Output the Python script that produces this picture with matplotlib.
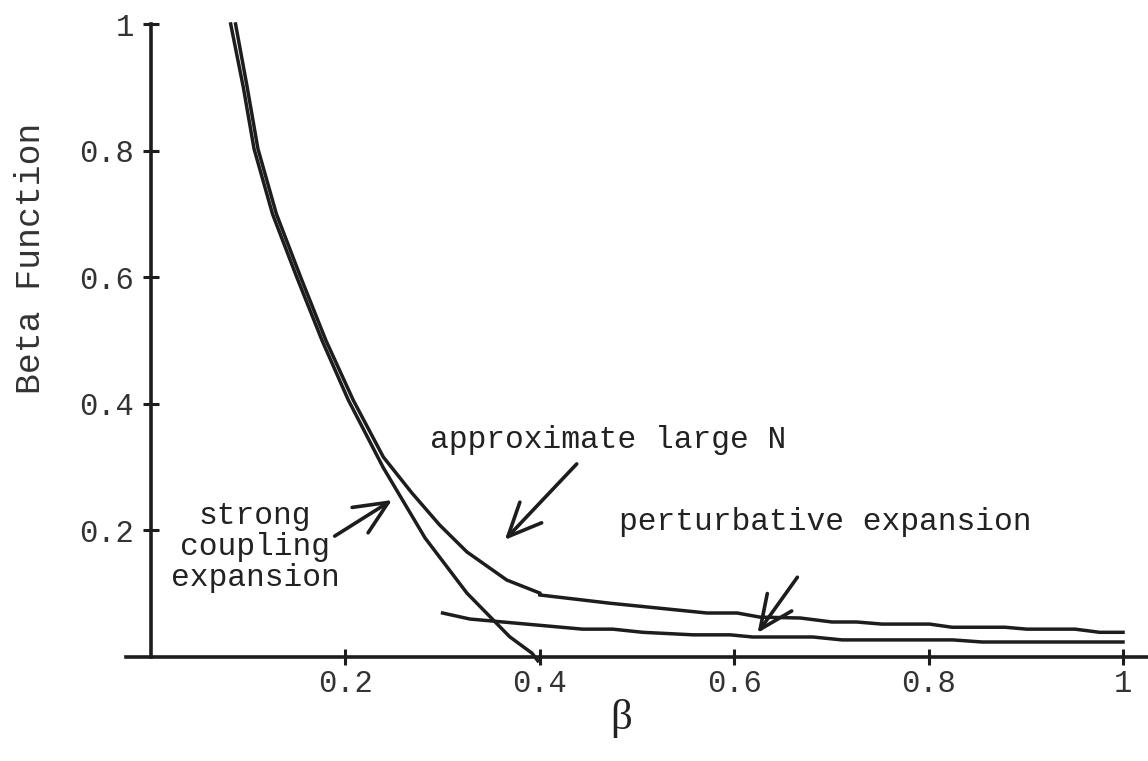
import matplotlib
matplotlib.use('Agg')
import matplotlib.pyplot as plt

# strong coupling expansion
strong_beta = [0.082, 0.095, 0.106, 0.125, 0.150, 0.176, 0.203, 0.239, 0.282, 0.325, 0.369, 0.392, 0.398]
strong_val = [1.0, 0.90, 0.803, 0.70, 0.60, 0.50, 0.406, 0.299, 0.188, 0.101, 0.032, 0.006, -0.006]

# approximate large N
largeN_beta = [0.087, 0.099, 0.110, 0.129, 0.154, 0.180, 0.208, 0.239, 0.2685, 0.297, 0.325, 0.366, 0.400,
               0.400, 0.472, 0.572, 0.603, 0.6265, 0.668, 0.7006, 0.726, 0.752, 0.801, 0.824, 0.8786,
               0.901, 0.9506, 0.976, 1.0]
largeN_val = [1.0, 0.90, 0.803, 0.70, 0.60, 0.50, 0.406, 0.316, 0.259, 0.2085, 0.166, 0.1216, 0.101,
              0.098, 0.085, 0.0695, 0.0695, 0.063, 0.0616, 0.0553, 0.0553, 0.052, 0.052, 0.047, 0.047,
              0.044, 0.044, 0.039, 0.039]

# perturbative expansion
pert_beta = [0.300, 0.328, 0.444, 0.475, 0.506, 0.558, 0.596, 0.619, 0.681, 0.711, 0.825, 0.855, 1.0]
pert_val = [0.0695, 0.060, 0.044, 0.044, 0.039, 0.035, 0.035, 0.0316, 0.0316, 0.027, 0.027, 0.0237, 0.0237]

tick_vals = [0.2, 0.4, 0.6, 0.8, 1.0]
tick_labels = ['0.2', '0.4', '0.6', '0.8', '1']

# labels: text, text position, arrow tail, arrow head
notes = [
    ('strong\ncoupling\nexpansion', (0.107, 0.174), (0.189, 0.191), (0.248, 0.248)),
    ('approximate large N', (0.470, 0.343), (0.438, 0.305), (0.364, 0.185)),
    ('perturbative expansion', (0.694, 0.213), (0.665, 0.126), (0.624, 0.038)),
]

ink = '#1e1c1d'
mono = 'Liberation Mono'

fig = plt.figure(figsize=(11.48, 7.61), dpi=100)
ax = fig.add_axes([126 / 1148, 104 / 761, 1022 / 1148, 633 / 761])
ax.set_xlim(-0.0257, 1.0257)
ax.set_ylim(0, 1)

for xs, ys in [(strong_beta, strong_val), (largeN_beta, largeN_val), (pert_beta, pert_val)]:
    ax.plot(xs, ys, color=ink, lw=2.5, clip_on=False, solid_joinstyle='miter')

# Mathematica style axes crossing at the origin
ax.spines['top'].set_visible(False)
ax.spines['right'].set_visible(False)
ax.spines['left'].set_position(('data', 0))
ax.spines['left'].set_bounds(0, 1)
ax.spines['bottom'].set_position(('data', 0))
for s in ['left', 'bottom']:
    ax.spines[s].set_linewidth(2.6)
    ax.spines[s].set_color(ink)

ax.set_xticks(tick_vals, tick_labels)
ax.set_yticks(tick_vals, tick_labels)
ax.tick_params(direction='inout', length=12, width=2.2, color=ink,
               labelsize=22, labelcolor='#333333')
ax.tick_params(axis='x', pad=3)
ax.tick_params(axis='y', pad=6)
for lab in ax.get_xticklabels() + ax.get_yticklabels():
    lab.set_family(mono)

for txt, pos, tail, head in notes:
    ax.text(pos[0], pos[1], txt, family=mono, fontsize=22.5, color='#222222',
            ha='center', va='center', linespacing=1.05)
    ax.annotate('', xy=head, xytext=tail,
                arrowprops=dict(arrowstyle='->,head_length=1.0,head_width=0.45',
                                lw=2.6, color=ink, shrinkA=0, shrinkB=0,
                                mutation_scale=24))

fig.text(31 / 1148, 1 - 258 / 761, 'Beta Function', family=mono, fontsize=25,
         rotation=90, ha='center', va='center', color='#333333')
fig.text(621 / 1148, 1 - 718 / 761, 'β', family='Liberation Serif', fontsize=31,
         ha='center', va='center', color='#222222')

fig.savefig('out.png', dpi=100)
plt.close()
